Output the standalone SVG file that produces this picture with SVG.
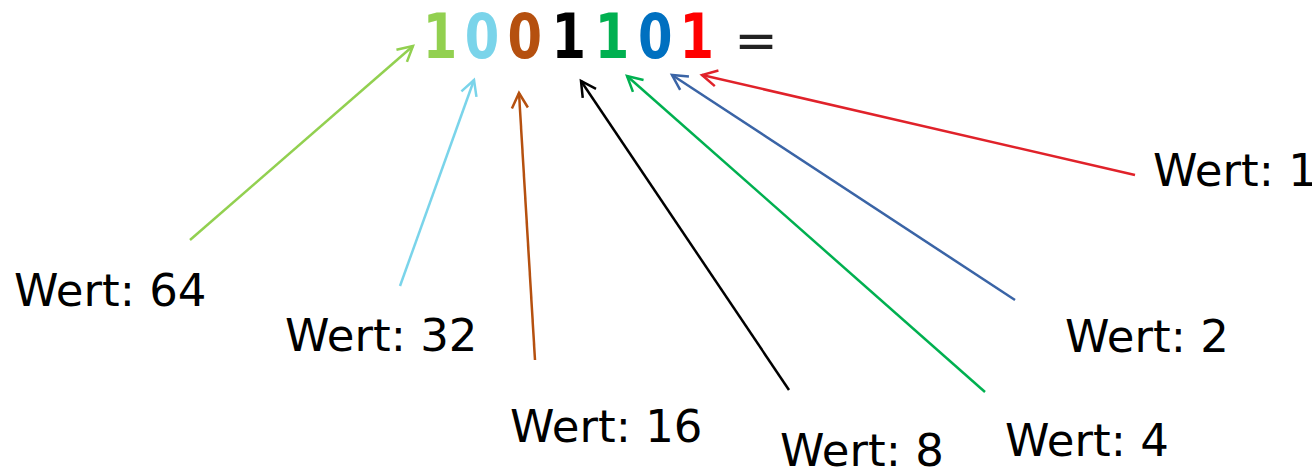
<svg xmlns="http://www.w3.org/2000/svg" width="1312" height="473" viewBox="0 0 1312 473">
<style>
.lbl{font-family:"DejaVu Sans",sans-serif;font-size:45px;fill:#000}
.dig{font-family:"DejaVu Sans",sans-serif;font-weight:bold;font-size:62px;text-anchor:middle}
.c{fill:none;stroke-width:2.5}
</style>
<defs>
<marker id="m1" markerUnits="userSpaceOnUse" markerWidth="30" markerHeight="30" viewBox="-20 -15 30 30" refX="0" refY="0" orient="auto"><path d="M-15,-8 L0,0 L-15,8" fill="none" stroke="#92D050" stroke-width="2.5"/></marker>
<marker id="m2" markerUnits="userSpaceOnUse" markerWidth="30" markerHeight="30" viewBox="-20 -15 30 30" refX="0" refY="0" orient="auto"><path d="M-15,-8 L0,0 L-15,8" fill="none" stroke="#7AD4EA" stroke-width="2.5"/></marker>
<marker id="m3" markerUnits="userSpaceOnUse" markerWidth="30" markerHeight="30" viewBox="-20 -15 30 30" refX="0" refY="0" orient="auto"><path d="M-15,-8 L0,0 L-15,8" fill="none" stroke="#B5500F" stroke-width="2.5"/></marker>
<marker id="m4" markerUnits="userSpaceOnUse" markerWidth="30" markerHeight="30" viewBox="-20 -15 30 30" refX="0" refY="0" orient="auto"><path d="M-15,-8 L0,0 L-15,8" fill="none" stroke="#000" stroke-width="2.5"/></marker>
<marker id="m5" markerUnits="userSpaceOnUse" markerWidth="30" markerHeight="30" viewBox="-20 -15 30 30" refX="0" refY="0" orient="auto"><path d="M-15,-8 L0,0 L-15,8" fill="none" stroke="#00B050" stroke-width="2.5"/></marker>
<marker id="m6" markerUnits="userSpaceOnUse" markerWidth="30" markerHeight="30" viewBox="-20 -15 30 30" refX="0" refY="0" orient="auto"><path d="M-15,-8 L0,0 L-15,8" fill="none" stroke="#3A64A6" stroke-width="2.5"/></marker>
<marker id="m7" markerUnits="userSpaceOnUse" markerWidth="30" markerHeight="30" viewBox="-20 -15 30 30" refX="0" refY="0" orient="auto"><path d="M-15,-8 L0,0 L-15,8" fill="none" stroke="#E0222A" stroke-width="2.5"/></marker>
</defs>
<rect width="1312" height="473" fill="#fff"/>
<g id="number">
<text class="dig" y="58" transform="scale(0.8,1)"><tspan x="550" fill="#92D050">1</tspan><tspan x="602.5" fill="#7AD4EA">0</tspan><tspan x="656" fill="#B5500F">0</tspan><tspan x="711" fill="#000">1</tspan><tspan x="765" fill="#00B050">1</tspan><tspan x="819" fill="#0070C0">0</tspan><tspan x="871" fill="#FF0000">1</tspan></text>
<text x="756" y="58" style="font-family:'DejaVu Sans',sans-serif;font-size:52px;text-anchor:middle;fill:#222">=</text>
</g>
<g id="connectors">
<line class="c" x1="190" y1="240" x2="413" y2="46" stroke="#92D050" marker-end="url(#m1)"/>
<line class="c" x1="400" y1="286" x2="474" y2="80" stroke="#7AD4EA" marker-end="url(#m2)"/>
<line class="c" x1="535" y1="360" x2="519" y2="93" stroke="#B5500F" marker-end="url(#m3)"/>
<line class="c" x1="789" y1="390" x2="581" y2="81" stroke="#000" marker-end="url(#m4)"/>
<line class="c" x1="985" y1="392" x2="627" y2="76" stroke="#00B050" marker-end="url(#m5)"/>
<line class="c" x1="1015" y1="300" x2="672" y2="75" stroke="#3A64A6" marker-end="url(#m6)"/>
<line class="c" x1="1135" y1="175" x2="702" y2="75" stroke="#E0222A" marker-end="url(#m7)"/>
</g>
<g id="w64"><text class="lbl" x="14" y="306">Wert: 64</text></g>
<g id="w32"><text class="lbl" x="285" y="351">Wert: 32</text></g>
<g id="w16"><text class="lbl" x="510" y="442">Wert: 16</text></g>
<g id="w8"><text class="lbl" x="780" y="466">Wert: 8</text></g>
<g id="w4"><text class="lbl" x="1005" y="456">Wert: 4</text></g>
<g id="w2"><text class="lbl" x="1065" y="352">Wert: 2</text></g>
<g id="w1"><text class="lbl" x="1153" y="186">Wert: 1</text></g>
</svg>
